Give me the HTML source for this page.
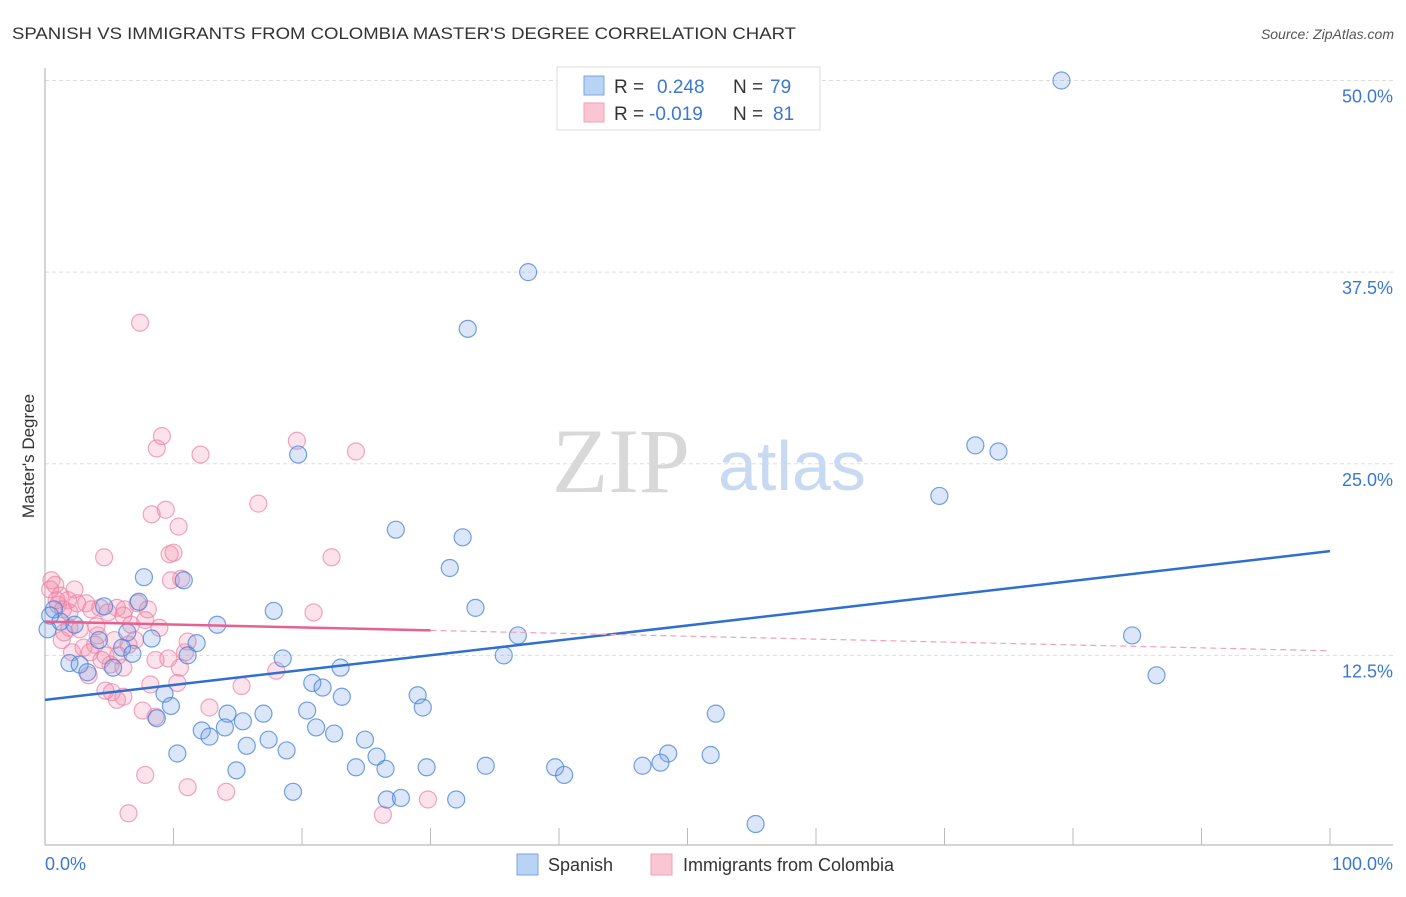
<!DOCTYPE html>
<html><head><meta charset="utf-8"><style>
body{margin:0;background:#fff;font-family:"Liberation Sans",sans-serif;}
svg text{font-family:"Liberation Sans",sans-serif;}
</style></head><body>
<svg id="chart" width="1406" height="892" viewBox="0 0 1406 892" xmlns="http://www.w3.org/2000/svg">
<text x="12" y="39" font-size="17" fill="#333" textLength="784" lengthAdjust="spacingAndGlyphs">SPANISH VS IMMIGRANTS FROM COLOMBIA MASTER'S DEGREE CORRELATION CHART</text>
<text x="1394" y="39" font-size="14" fill="#555" text-anchor="end" font-style="italic">Source: ZipAtlas.com</text>
<g>
<text x="552" y="492" font-size="92" fill="#d8d8d8" font-family="Liberation Serif" style="font-family:'Liberation Serif',serif">ZIP</text>
<text x="718" y="490" font-size="70" fill="#c8daf2">atlas</text>
</g>
<g id="grid"></g>
<g id="axes"></g>
<g id="pts"></g>
<g id="lines"></g>
<text transform="translate(34,456) rotate(-90)" font-size="17" fill="#333" text-anchor="middle">Master's Degree</text>
<g>
<rect x="557" y="67" width="263" height="63" fill="#fff" stroke="#ddd"/>
<rect x="584" y="76" width="20" height="19" fill="#b9d3f5" stroke="#7aa5e0"/>
<rect x="584" y="103" width="20" height="19" fill="#fbc6d4" stroke="#f0a0b8"/>
<text x="614" y="93" font-size="19" fill="#333">R =</text>
<text x="657" y="93" font-size="19" fill="#3a78d0">0.248</text>
<text x="733" y="93" font-size="19" fill="#333">N =</text>
<text x="770" y="93" font-size="19" fill="#3a78d0">79</text>
<text x="614" y="120" font-size="19" fill="#333">R =</text>
<text x="649" y="120" font-size="19" fill="#3a78d0">-0.019</text>
<text x="733" y="120" font-size="19" fill="#333">N =</text>
<text x="773" y="120" font-size="19" fill="#3a78d0">81</text>
</g>
<g>
<rect x="517" y="854" width="21" height="21" fill="#b9d3f5" stroke="#7aa5e0"/>
<text x="548" y="871" font-size="18" fill="#333">Spanish</text>
<rect x="651" y="854" width="21" height="21" fill="#fbc6d4" stroke="#f0a0b8"/>
<text x="683" y="871" font-size="18" fill="#333">Immigrants from Colombia</text>
</g>
</svg>
<script>
const yTicks=[12.5,25.0,37.5,50.0];
const yTickLabels=["12.5%","25.0%","37.5%","50.0%"];
const xTickLabels=["0.0%","100.0%"];
const blueX=[79.1,37.6,32.9,72.4,74.2,19.7,69.6,27.3,32.5,31.5,7.7,10.8,33.5,17.8,4.6,7.3,13.4,0.7,1.2,2.3,0.2,6.4,8.3,4.2,6.0,11.8,36.8,84.6,6.8,11.1,35.7,18.5,23.0,1.9,2.7,3.3,5.3,86.5,20.8,21.6,9.3,23.1,29.0,9.8,29.4,20.4,14.2,17.0,52.2,8.7,15.4,21.1,12.2,14.0,22.5,12.8,17.4,24.9,15.7,18.8,10.3,25.8,48.5,51.8,47.9,34.3,39.7,46.5,24.2,26.5,29.7,14.9,40.4,19.3,26.6,27.7,32.0,55.3,0.4];
const blueY=[50.0,37.5,33.8,26.2,25.8,25.6,22.9,20.7,20.2,18.2,17.6,17.4,15.6,15.4,15.7,16.0,14.5,15.5,14.7,14.5,14.2,14.0,13.6,13.5,13.0,13.3,13.8,13.8,12.6,12.5,12.5,12.3,11.7,12.0,11.9,11.4,11.7,11.2,10.7,10.4,10.0,9.8,9.9,9.2,9.1,8.9,8.7,8.7,8.7,8.4,8.2,7.8,7.6,7.8,7.4,7.2,7.0,7.0,6.6,6.3,6.1,5.9,6.1,6.0,5.5,5.3,5.2,5.3,5.2,5.1,5.2,5.0,4.7,3.6,3.1,3.2,3.1,1.5,15.1];
const pinkX=[7.4,9.1,8.7,19.6,24.2,12.1,16.6,9.4,8.3,10.4,4.6,10.0,9.7,22.3,10.6,9.8,0.5,0.8,0.4,1.2,1.8,2.5,3.2,1.0,1.4,4.3,5.6,6.2,8.0,7.2,20.9,6.1,7.8,1.9,1.5,2.7,8.9,4.1,5.4,6.5,7.0,3.0,3.9,2.1,3.5,4.4,10.9,9.6,5.1,6.1,10.5,18.0,3.4,8.2,10.3,15.3,4.7,5.2,6.1,5.6,12.8,7.6,8.6,7.8,11.1,14.1,29.8,26.3,6.5,4.0,0.9,2.3,4.9,6.7,8.6,11.1,1.3,3.6,1.9,4.7,5.7];
const pinkY=[34.2,26.8,26.0,26.5,25.8,25.6,22.4,22.0,21.7,20.9,18.9,19.2,19.1,18.9,17.5,17.4,17.4,17.1,16.8,16.4,16.1,15.9,15.9,15.8,15.5,15.6,15.6,15.5,15.5,15.9,15.3,15.1,14.8,14.3,14.0,14.2,14.3,13.8,13.5,13.2,13.5,13.0,13.2,12.7,12.7,12.2,12.7,12.3,11.9,11.7,11.7,11.5,11.2,10.6,10.7,10.5,10.2,10.1,9.8,9.6,9.1,8.9,8.5,4.7,3.9,3.6,3.1,2.1,2.2,14.4,16.1,16.8,15.3,14.5,12.2,13.4,13.5,15.5,15.3,12.5,12.5];
const blueTrend=[9.6,19.3];
const pinkTrend=[14.7,12.8];
const pinkSolidEnd=30;
const X=v=>45+v*12.85, Y=v=>847-v*15.33;
const NS="http://www.w3.org/2000/svg";
function mk(parent,tag,attrs){const e=document.createElementNS(NS,tag);for(const k in attrs)e.setAttribute(k,attrs[k]);document.getElementById(parent).appendChild(e);return e;}
yTicks.forEach((t,i)=>{
 const g=mk('grid','line',{x1:45,x2:1393,y1:Y(t),y2:Y(t),stroke:'#ddd','stroke-dasharray':'4,3'});
 
 
 const l=mk('grid','text',{x:1393,y:Y(t)+22,'font-size':18,fill:'#3a78d0','text-anchor':'end'});
 l.textContent=yTickLabels[i];
 
 
});
const ax=mk('axes','line',{x1:45,x2:45,y1:68,y2:845,stroke:'#aaa'});


const bx=mk('axes','line',{x1:45,x2:1393,y1:845,y2:845,stroke:'#aaa'});


for(let i=1;i<=10;i++){const t=mk('axes','line',{x1:X(i*10),x2:X(i*10),y1:828,y2:845,stroke:'#bbb'});
 
 }
[[0,'start',45],[100,'end',1393]].forEach((d,i)=>{const l=mk('axes','text',{x:d[2],y:870,'font-size':18,fill:'#3a78d0','text-anchor':d[1]});l.textContent=xTickLabels[i];
 
 });
pinkX.forEach((x,i)=>{const c=mk('pts','circle',{cx:X(x),cy:Y(pinkY[i]),r:8.5,fill:'rgba(245,140,170,0.25)',stroke:'rgba(235,130,165,0.7)','stroke-width':1.2});
 
 });
blueX.forEach((x,i)=>{const c=mk('pts','circle',{cx:X(x),cy:Y(blueY[i]),r:8.5,fill:'rgba(110,160,230,0.25)',stroke:'rgba(70,130,215,0.75)','stroke-width':1.2});
 
 });
const bl=mk('lines','line',{x1:X(0),y1:Y(blueTrend[0]),x2:X(100),y2:Y(blueTrend[1]),stroke:'#2f6fd0','stroke-width':2.5});


const pAt=x=>pinkTrend[0]+(pinkTrend[1]-pinkTrend[0])*x/100;
const pd=mk('lines','line',{x1:X(pinkSolidEnd),y1:Y(pAt(pinkSolidEnd)),x2:X(100),y2:Y(pinkTrend[1]),stroke:'#f0a0b8','stroke-width':1.2,'stroke-dasharray':'6,4'});


const pl=mk('lines','line',{x1:X(0),y1:Y(pinkTrend[0]),x2:X(pinkSolidEnd),y2:Y(pAt(pinkSolidEnd)),stroke:'#e8608e','stroke-width':2.5});


</script>
</body></html>
